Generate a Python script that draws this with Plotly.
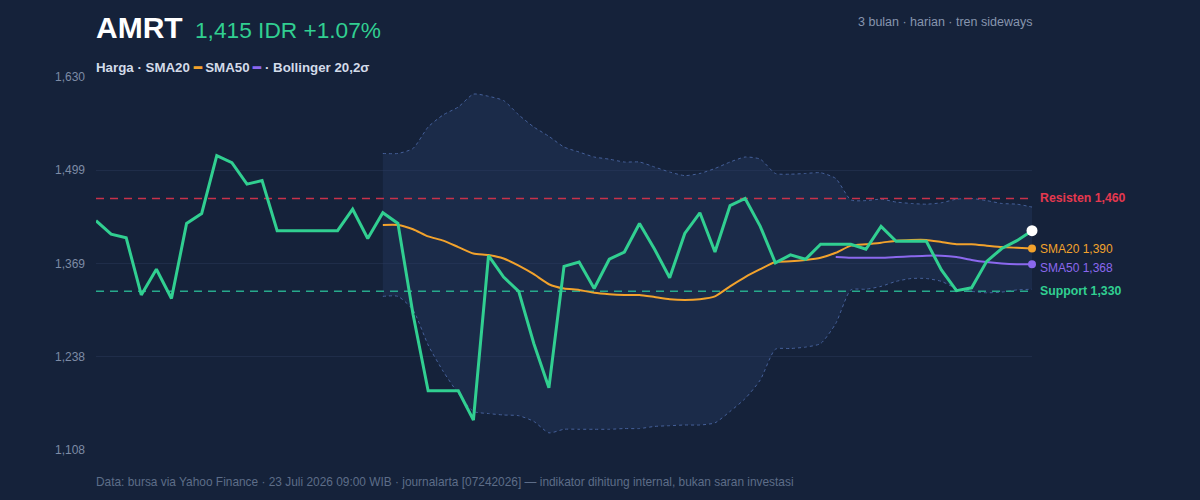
import plotly.graph_objects as go

# ---------------- data ----------------
price = [1429, 1410, 1405, 1325, 1361, 1320, 1425, 1439, 1520, 1510,
         1480, 1485, 1415, 1415, 1415, 1415, 1415, 1445, 1404, 1440,
         1425, 1298, 1191, 1191, 1191, 1150, 1380, 1350, 1330, 1257,
         1195, 1365, 1371, 1334, 1375, 1385, 1425, 1389, 1349, 1411,
         1440, 1385, 1450, 1460, 1421, 1370, 1381, 1375, 1396, 1396,
         1396, 1389, 1421, 1400, 1400, 1400, 1360, 1331, 1335, 1372,
         1390, 1401, 1415]

sma20 = [None] * 19 + [1423, 1423, 1417, 1407, 1401, 1392, 1383, 1381, 1376, 1366,
                       1354, 1340, 1334, 1332, 1328, 1326, 1325, 1325, 1322, 1319,
                       1318, 1319, 1323, 1337, 1350, 1361, 1371, 1372, 1374, 1377,
                       1384, 1394, 1396, 1398, 1401, 1402, 1402, 1399, 1396, 1396,
                       1394, 1392, 1391, 1390]

sma50 = [None] * 49 + [1378, 1377, 1377, 1377, 1378, 1379, 1380, 1380, 1378, 1374,
                       1371, 1369, 1368, 1368]

bb_upper = [None] * 19 + [1523, 1523, 1530, 1560, 1577, 1588, 1606, 1603, 1597, 1577,
                          1560, 1547, 1532, 1525, 1518, 1515, 1511, 1511, 1504, 1497,
                          1492, 1495, 1502, 1511, 1518, 1515, 1495, 1494, 1495, 1496,
                          1488, 1458, 1457, 1459, 1455, 1453, 1452, 1454, 1459, 1460,
                          1457, 1453, 1452, 1448]

bb_lower = [None] * 19 + [1323, 1323, 1304, 1255, 1218, 1187, 1162, 1159, 1157, 1156,
                          1148, 1132, 1137, 1137, 1137, 1137, 1138, 1138, 1141, 1142,
                          1143, 1143, 1146, 1162, 1180, 1206, 1249, 1250, 1252, 1257,
                          1285, 1332, 1333, 1337, 1344, 1348, 1348, 1344, 1334, 1330,
                          1328, 1329, 1332, 1333]

resistance = 1460
support = 1330
y_ticks = [1108, 1238.5, 1369, 1499.5, 1630]
y_ticklabels = ["1,108", "1,238", "1,369", "1,499", "1,630"]

x = list(range(len(price)))

# ---------------- styles ----------------
BG = "#15223a"
GRID = "#1f2d49"
GREEN = "#31cf91"
RED = "#e5384f"
ORANGE = "#f2a22c"
PURPLE = "#8b68ee"
BAND_LINE = "#45609a"
FONT = "Liberation Sans, Arial, sans-serif"

W, H = 1200, 500
ML, MR, MT, MB = 96, 168, 77, 50
PW = W - ML - MR
PH = H - MT - MB


def px(p):
    return (p - ML) / PW


def py(p):
    return (H - MB - p) / PH


fig = go.Figure()

# Bollinger band
bx = [i for i in x if bb_upper[i] is not None]
fig.add_trace(go.Scatter(
    x=bx, y=[bb_upper[i] for i in bx], mode="lines",
    line=dict(color=BAND_LINE, width=1, dash="3px,3px", shape="spline", smoothing=0.6),
    hoverinfo="skip", showlegend=False))
fig.add_trace(go.Scatter(
    x=bx, y=[bb_lower[i] for i in bx], mode="lines", fill="tonexty",
    fillcolor="rgba(40,62,105,0.32)",
    line=dict(color=BAND_LINE, width=1, dash="3px,3px", shape="spline", smoothing=0.6),
    hoverinfo="skip", showlegend=False))

# support / resistance
fig.add_trace(go.Scatter(
    x=[x[0], x[-1]], y=[resistance, resistance], mode="lines",
    line=dict(color="#c8314a", width=1.5, dash="8px,6px"),
    hoverinfo="skip", showlegend=False))
fig.add_trace(go.Scatter(
    x=[x[0], x[-1]], y=[support, support], mode="lines",
    line=dict(color="#27a98c", width=1.5, dash="8px,6px"),
    hoverinfo="skip", showlegend=False))

# SMA lines
s20x = [i for i in x if sma20[i] is not None]
fig.add_trace(go.Scatter(
    x=s20x, y=[sma20[i] for i in s20x], mode="lines",
    line=dict(color=ORANGE, width=2, shape="spline", smoothing=0.5),
    showlegend=False))
s50x = [i for i in x if sma50[i] is not None]
fig.add_trace(go.Scatter(
    x=s50x, y=[sma50[i] for i in s50x], mode="lines",
    line=dict(color=PURPLE, width=2, shape="spline", smoothing=0.5),
    showlegend=False))

# price
fig.add_trace(go.Scatter(
    x=x, y=price, mode="lines",
    line=dict(color=GREEN, width=3),
    showlegend=False))

# end markers
fig.add_trace(go.Scatter(
    x=[x[-1]], y=[sma20[-1]], mode="markers",
    marker=dict(color=ORANGE, size=8), cliponaxis=False, showlegend=False))
fig.add_trace(go.Scatter(
    x=[x[-1]], y=[sma50[-1]], mode="markers",
    marker=dict(color=PURPLE, size=8), cliponaxis=False, showlegend=False))
fig.add_trace(go.Scatter(
    x=[x[-1]], y=[price[-1]], mode="markers",
    marker=dict(color="#ffffff", size=11), cliponaxis=False, showlegend=False))

ann = []


def add_text(text, xp, yc, size, color, xanchor="left"):
    ann.append(dict(text=text, xref="paper", yref="paper", x=px(xp), y=py(yc),
                    xanchor=xanchor, yanchor="middle", showarrow=False,
                    xshift=-2 if xanchor == "left" else 2,
                    font=dict(family=FONT, size=size, color=color)))


add_text("<b>AMRT</b>", 96, 27.5, 30, "#ffffff")
add_text("1,415 IDR +1.07%", 195, 29.6, 22.7, GREEN)
add_text("<b>Harga · SMA20 <span style='color:%s'>━</span> SMA50 "
         "<span style='color:%s'>━</span> · Bollinger 20,2σ</b>" % (ORANGE, PURPLE),
         96, 67.8, 13.3, "#d3dbe9")
add_text("3 bulan · harian · tren sideways", 1032, 22.3, 12.5, "#8795ae", xanchor="right")
add_text("Data: bursa via Yahoo Finance · 23 Juli 2026 09:00 WIB · journalarta [07242026]"
         " — indikator dihitung internal, bukan saran investasi",
         96, 481.8, 11.9, "#5d6d88")

add_text("<b>Resisten 1,460</b>", 1040, 198.3, 12.3, RED)
add_text("SMA20 1,390", 1040, 249, 12, ORANGE)
add_text("SMA50 1,368", 1040, 268.3, 12, PURPLE)
add_text("<b>Support 1,330</b>", 1040, 291, 12.3, GREEN)

fig.update_layout(
    width=W, height=H,
    margin=dict(l=ML, r=MR, t=MT, b=MB),
    paper_bgcolor=BG, plot_bgcolor=BG,
    annotations=ann,
    font=dict(family=FONT),
    xaxis=dict(range=[x[0], x[-1]], showgrid=False, zeroline=False,
               showticklabels=False, showline=False, fixedrange=True),
    yaxis=dict(range=[y_ticks[0], y_ticks[-1]], tickvals=y_ticks, ticktext=y_ticklabels,
               showgrid=True, gridcolor=GRID, gridwidth=1, zeroline=False,
               showline=False, ticks="", ticklabelstandoff=10,
               tickfont=dict(family=FONT, size=12, color="#7d8ba5"), fixedrange=True),
    hovermode=False,
)

fig.write_html("out.html", config={"displayModeBar": False})
